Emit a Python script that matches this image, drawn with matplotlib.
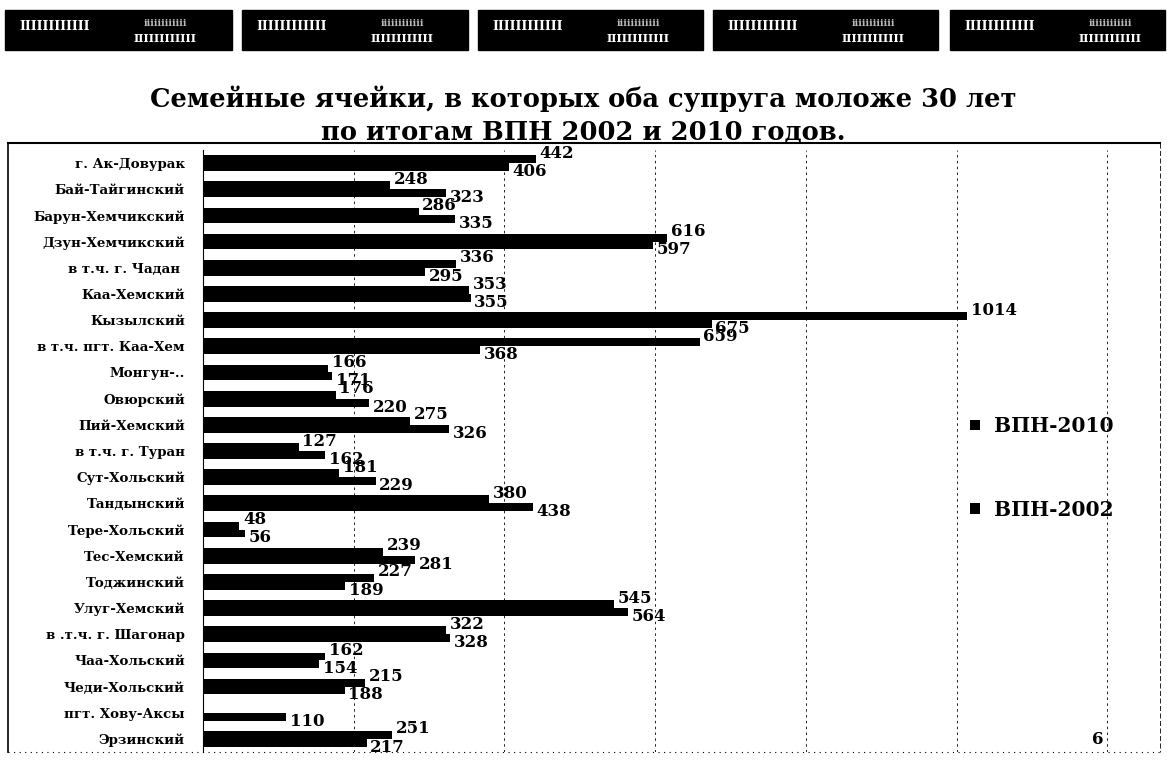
import matplotlib.pyplot as plt
import matplotlib.patches as patches
from matplotlib.lines import Line2D
import numpy as np

# data (upper bar = ВПН-2010, lower bar = ВПН-2002)
districts = ["г. Ак-Довурак", "Бай-Тайгинский", "Барун-Хемчикский", "Дзун-Хемчикский",
             "в т.ч. г. Чадан ", "Каа-Хемский", "Кызылский", "в т.ч. пгт. Каа-Хем",
             "Монгун-..", "Овюрский", "Пий-Хемский", "в т.ч. г. Туран",
             "Сут-Хольский", "Тандынский", "Тере-Хольский", "Тес-Хемский",
             "Тоджинский", "Улуг-Хемский", "в .т.ч. г. Шагонар", "Чаа-Хольский",
             "Чеди-Хольский", "пгт. Хову-Аксы", "Эрзинский"]
vpn2010 = [442, 248, 286, 616, 336, 353, 1014, 659, 166, 176, 275, 127,
           181, 380, 48, 239, 227, 545, 322, 162, 215, np.nan, 251]
vpn2002 = [406, 323, 335, 597, 295, 355, 675, 368, 171, 220, 326, 162,
           229, 438, 56, 281, 189, 564, 328, 154, 188, 110, 217]

title = "Семейные ячейки, в которых оба супруга моложе 30 лет\nпо итогам ВПН 2002 и 2010 годов."

plt.rcParams['font.family'] = ['DejaVu Serif']
plt.rcParams['font.weight'] = 'bold'

W, H = 1167, 780
fig = plt.figure(figsize=(11.67, 7.8), dpi=100)

# black header boxes of the scanned page
box_x = [(5, 232), (242, 468), (478, 703), (713, 938), (950, 1165)]
for x0, x1 in box_x:
    fig.patches.append(patches.Rectangle((x0 / W, 1 - 50 / H), (x1 - x0) / W, 40 / H,
                                         transform=fig.transFigure, color='black'))
    fig.text((x0 + 50) / W, 1 - 27 / H, "IIIIIIIIIIII", color='white', fontsize=9,
             ha='center', va='center')
    fig.text((x0 + 160) / W, 1 - 24 / H, "iiiiiiiiiiii", color='#bbbbbb', fontsize=7,
             ha='center', va='center')
    fig.text((x0 + 160) / W, 1 - 38 / H, "IIIIIIIIIIII", color='white', fontsize=8,
             ha='center', va='center')

fig.text(0.5, 1 - 115 / H, title, ha='center', va='center', fontsize=18.5,
         fontweight='bold', linespacing=1.4)

# outer frame of the chart
fig.add_artist(Line2D([8 / W, 1160 / W], [1 - 143 / H] * 2, color='black', lw=1.5))
fig.add_artist(Line2D([8 / W] * 2, [1 - 143 / H, 1 - 752 / H], color='black', lw=1.2))
fig.add_artist(Line2D([1160 / W] * 2, [1 - 143 / H, 1 - 752 / H], color='black', lw=0.6,
                      linestyle=(0, (6, 3))))
fig.add_artist(Line2D([8 / W, 1160 / W], [1 - 752 / H] * 2, color='black', lw=0.8,
                      linestyle=(0, (1, 4))))

ax = fig.add_axes([203 / W, 1 - 752 / H, 957 / W, 602 / H])
y = np.arange(len(districts))
h = 0.3
ax.barh(y - h / 2, vpn2010, height=h, color='black', label='ВПН-2010')
ax.barh(y + h / 2, vpn2002, height=h, color='black', label='ВПН-2002')

for i in range(len(districts)):
    if not np.isnan(vpn2010[i]):
        ax.text(vpn2010[i] + 5, y[i] - 0.38, f"{vpn2010[i]:.0f}", va='center', ha='left',
                fontsize=12, fontweight='bold')
    ax.text(vpn2002[i] + 5, y[i] + 0.32, f"{vpn2002[i]:.0f}", va='center', ha='left',
            fontsize=12, fontweight='bold')

ax.set_xlim(0, 1270)
ax.set_ylim(22.5, -0.5)
ax.set_yticks(y)
ax.set_yticklabels(districts, fontsize=9.6, fontweight='bold')
ax.set_xticks([])
ax.tick_params(axis='y', length=0, pad=13)
for x in range(200, 1300, 200):
    ax.axvline(x, color='black', linestyle=(0, (3, 4)), linewidth=0.6)
for s in ['top', 'right', 'bottom']:
    ax.spines[s].set_visible(False)
ax.spines['left'].set_linewidth(0.8)

leg = ax.legend(loc='upper left', bbox_to_anchor=(0.783, 0.588), frameon=False,
                prop={'size': 14.5, 'weight': 'bold'}, handlelength=0.45, handleheight=0.45,
                labelspacing=3.15, handletextpad=0.7)

fig.text(1098 / W, 1 - 740 / H, "6", fontsize=12, fontweight='bold', ha='center', va='center')

plt.savefig("out.png", dpi=100)
